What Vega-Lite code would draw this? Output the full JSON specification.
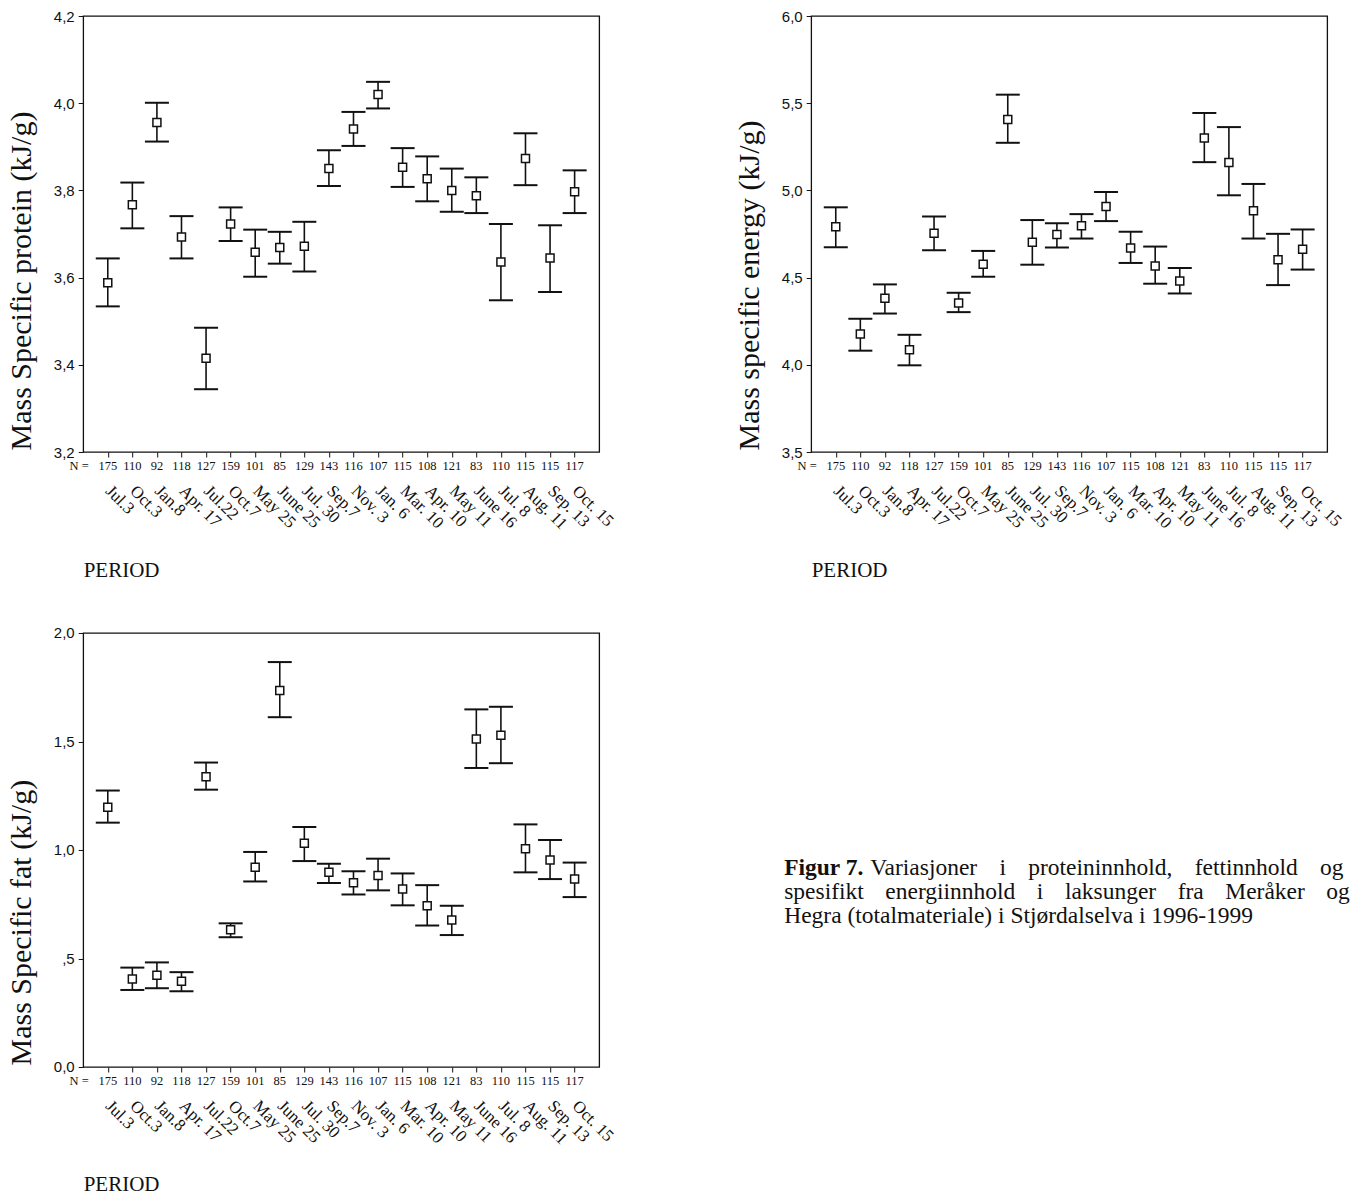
{
  "$schema": "https://vega.github.io/schema/vega-lite/v6.json",
  "padding": {"left": 5.2, "top": 8, "right": 0, "bottom": 0},
  "background": "white",
  "config": {
    "view": {"stroke": "#111", "strokeWidth": 1.3},
    "font": "Liberation Serif",
    "axis": {"grid": false, "domain": false, "tickColor": "#111", "labelColor": "#111", "titleColor": "#111", "titleFontWeight": "normal"},
    "axisY": {"tickSize": 5, "labelPadding": 4, "labelFont": "Liberation Sans", "labelFontSize": 15, "titleFont": "Liberation Serif", "titleFontSize": 30, "titleX": -53, "titleAlign": "left", "titleBaseline": "alphabetic", "labelExpr": "replace(format(datum.value, '.1f'), '.', ',')"},
    "axisX": {"tickSize": 5, "labelAngle": 45, "labelAlign": "left", "labelBaseline": "middle", "labelPadding": 31, "labelFont": "Liberation Serif", "labelFontSize": 17, "labelOverlap": false, "labelFlush": false, "labelBound": false, "titleFont": "Liberation Serif", "titleFontSize": 21, "titleX": 0, "titleY": 124, "titleAlign": "left", "titleBaseline": "alphabetic"}
  },
  "datasets": {
    "d": [
      {"idx": 1, "period": "Jul.3", "n": 175, "prot": 3.588, "prot_lo": 3.534, "prot_hi": 3.644, "en": 4.791, "en_lo": 4.674, "en_hi": 4.903, "fat": 1.197, "fat_lo": 1.126, "fat_hi": 1.274},
      {"idx": 2, "period": "Oct.3", "n": 110, "prot": 3.767, "prot_lo": 3.713, "prot_hi": 3.818, "en": 4.177, "en_lo": 4.081, "en_hi": 4.264, "fat": 0.406, "fat_lo": 0.355, "fat_hi": 0.458},
      {"idx": 3, "period": "Jan.8", "n": 92, "prot": 3.956, "prot_lo": 3.912, "prot_hi": 4.001, "en": 4.381, "en_lo": 4.294, "en_hi": 4.461, "fat": 0.423, "fat_lo": 0.363, "fat_hi": 0.482},
      {"idx": 4, "period": "Apr. 17", "n": 118, "prot": 3.693, "prot_lo": 3.644, "prot_hi": 3.741, "en": 4.087, "en_lo": 3.997, "en_hi": 4.172, "fat": 0.395, "fat_lo": 0.349, "fat_hi": 0.437},
      {"idx": 5, "period": "Jul.22", "n": 127, "prot": 3.415, "prot_lo": 3.344, "prot_hi": 3.485, "en": 4.755, "en_lo": 4.657, "en_hi": 4.851, "fat": 1.338, "fat_lo": 1.278, "fat_hi": 1.403},
      {"idx": 6, "period": "Oct.7", "n": 159, "prot": 3.723, "prot_lo": 3.684, "prot_hi": 3.761, "en": 4.354, "en_lo": 4.302, "en_hi": 4.413, "fat": 0.632, "fat_lo": 0.598, "fat_hi": 0.662},
      {"idx": 7, "period": "May 25", "n": 101, "prot": 3.658, "prot_lo": 3.602, "prot_hi": 3.71, "en": 4.576, "en_lo": 4.505, "en_hi": 4.653, "fat": 0.92, "fat_lo": 0.855, "fat_hi": 0.991},
      {"idx": 8, "period": "June 25", "n": 85, "prot": 3.669, "prot_lo": 3.632, "prot_hi": 3.705, "en": 5.407, "en_lo": 5.273, "en_hi": 5.549, "fat": 1.735, "fat_lo": 1.612, "fat_hi": 1.866},
      {"idx": 9, "period": "Jul. 30", "n": 129, "prot": 3.672, "prot_lo": 3.614, "prot_hi": 3.728, "en": 4.703, "en_lo": 4.574, "en_hi": 4.83, "fat": 1.031, "fat_lo": 0.949, "fat_hi": 1.106},
      {"idx": 10, "period": "Sep.7", "n": 143, "prot": 3.85, "prot_lo": 3.81, "prot_hi": 3.892, "en": 4.747, "en_lo": 4.672, "en_hi": 4.812, "fat": 0.897, "fat_lo": 0.848, "fat_hi": 0.937},
      {"idx": 11, "period": "Nov. 3", "n": 116, "prot": 3.941, "prot_lo": 3.902, "prot_hi": 3.98, "en": 4.797, "en_lo": 4.724, "en_hi": 4.864, "fat": 0.849, "fat_lo": 0.795, "fat_hi": 0.902},
      {"idx": 12, "period": "Jan. 6", "n": 107, "prot": 4.02, "prot_lo": 3.988, "prot_hi": 4.049, "en": 4.908, "en_lo": 4.824, "en_hi": 4.991, "fat": 0.882, "fat_lo": 0.814, "fat_hi": 0.96},
      {"idx": 13, "period": "Mar. 10", "n": 115, "prot": 3.853, "prot_lo": 3.808, "prot_hi": 3.897, "en": 4.67, "en_lo": 4.584, "en_hi": 4.763, "fat": 0.82, "fat_lo": 0.745, "fat_hi": 0.892},
      {"idx": 14, "period": "Apr. 10", "n": 108, "prot": 3.827, "prot_lo": 3.775, "prot_hi": 3.878, "en": 4.567, "en_lo": 4.465, "en_hi": 4.678, "fat": 0.743, "fat_lo": 0.652, "fat_hi": 0.838},
      {"idx": 15, "period": "May 11", "n": 121, "prot": 3.8, "prot_lo": 3.751, "prot_hi": 3.85, "en": 4.48, "en_lo": 4.409, "en_hi": 4.555, "fat": 0.677, "fat_lo": 0.608, "fat_hi": 0.743},
      {"idx": 16, "period": "June 16", "n": 83, "prot": 3.788, "prot_lo": 3.748, "prot_hi": 3.83, "en": 5.3, "en_lo": 5.162, "en_hi": 5.444, "fat": 1.512, "fat_lo": 1.378, "fat_hi": 1.648},
      {"idx": 17, "period": "Jul. 8", "n": 110, "prot": 3.636, "prot_lo": 3.548, "prot_hi": 3.723, "en": 5.16, "en_lo": 4.972, "en_hi": 5.363, "fat": 1.529, "fat_lo": 1.4, "fat_hi": 1.66},
      {"idx": 18, "period": "Aug. 11", "n": 115, "prot": 3.873, "prot_lo": 3.812, "prot_hi": 3.931, "en": 4.883, "en_lo": 4.724, "en_hi": 5.037, "fat": 1.006, "fat_lo": 0.897, "fat_hi": 1.118},
      {"idx": 19, "period": "Sep. 13", "n": 115, "prot": 3.645, "prot_lo": 3.567, "prot_hi": 3.72, "en": 4.603, "en_lo": 4.457, "en_hi": 4.751, "fat": 0.954, "fat_lo": 0.866, "fat_hi": 1.046},
      {"idx": 20, "period": "Oct. 15", "n": 117, "prot": 3.797, "prot_lo": 3.748, "prot_hi": 3.846, "en": 4.663, "en_lo": 4.546, "en_hi": 4.776, "fat": 0.866, "fat_lo": 0.783, "fat_hi": 0.942}
    ]
  },
  "columns": 2,
  "bounds": "flush",
  "spacing": {"row": 181, "column": 212},
  "concat": [
    {
      "width": 516, "height": 436,
      "data": {"name": "d"},
      "encoding": {"x": {"field": "period", "type": "ordinal", "sort": {"field": "idx", "op": "min"}, "scale": {"type": "point", "padding": 1}, "axis": {"title": "PERIOD"}}},
      "layer": [
        {"mark": {"type": "rule", "color": "#111", "strokeWidth": 1.6}, "encoding": {"y": {"field": "prot_lo", "type": "quantitative", "scale": {"domain": [3.2, 4.2], "nice": false, "zero": false}, "axis": {"values": [3.2, 3.4, 3.6, 3.8, 4.0, 4.2], "title": "Mass Specific protein (kJ/g)", "titleY": 434}}, "y2": {"field": "prot_hi"}}},
        {"mark": {"type": "tick", "color": "#111", "size": 24, "thickness": 2, "opacity": 1}, "encoding": {"y": {"field": "prot_lo", "type": "quantitative"}}},
        {"mark": {"type": "tick", "color": "#111", "size": 24, "thickness": 2, "opacity": 1}, "encoding": {"y": {"field": "prot_hi", "type": "quantitative"}}},
        {"mark": {"type": "point", "shape": "square", "size": 64, "filled": true, "fill": "white", "stroke": "#111", "strokeWidth": 1.5, "opacity": 1}, "encoding": {"y": {"field": "prot", "type": "quantitative"}}},
        {"mark": {"type": "text", "baseline": "top", "dy": 8, "fontSize": 12.5, "color": "#111"}, "encoding": {"y": {"datum": 3.2, "type": "quantitative"}, "text": {"field": "n"}}},
        {"transform": [{"filter": "datum.idx == 1"}], "mark": {"type": "text", "baseline": "top", "align": "right", "dx": -19, "dy": 8, "fontSize": 12.5, "color": "#111"}, "encoding": {"y": {"datum": 3.2, "type": "quantitative"}, "text": {"value": "N ="}}}
      ]
    },
    {
      "width": 516, "height": 436,
      "data": {"name": "d"},
      "encoding": {"x": {"field": "period", "type": "ordinal", "sort": {"field": "idx", "op": "min"}, "scale": {"type": "point", "padding": 1}, "axis": {"title": "PERIOD"}}},
      "layer": [
        {"mark": {"type": "rule", "color": "#111", "strokeWidth": 1.6}, "encoding": {"y": {"field": "en_lo", "type": "quantitative", "scale": {"domain": [3.5, 6.0], "nice": false, "zero": false}, "axis": {"values": [3.5, 4.0, 4.5, 5.0, 5.5, 6.0], "title": "Mass specific energy (kJ/g)", "titleY": 434}}, "y2": {"field": "en_hi"}}},
        {"mark": {"type": "tick", "color": "#111", "size": 24, "thickness": 2, "opacity": 1}, "encoding": {"y": {"field": "en_lo", "type": "quantitative"}}},
        {"mark": {"type": "tick", "color": "#111", "size": 24, "thickness": 2, "opacity": 1}, "encoding": {"y": {"field": "en_hi", "type": "quantitative"}}},
        {"mark": {"type": "point", "shape": "square", "size": 64, "filled": true, "fill": "white", "stroke": "#111", "strokeWidth": 1.5, "opacity": 1}, "encoding": {"y": {"field": "en", "type": "quantitative"}}},
        {"mark": {"type": "text", "baseline": "top", "dy": 8, "fontSize": 12.5, "color": "#111"}, "encoding": {"y": {"datum": 3.5, "type": "quantitative"}, "text": {"field": "n"}}},
        {"transform": [{"filter": "datum.idx == 1"}], "mark": {"type": "text", "baseline": "top", "align": "right", "dx": -19, "dy": 8, "fontSize": 12.5, "color": "#111"}, "encoding": {"y": {"datum": 3.5, "type": "quantitative"}, "text": {"value": "N ="}}}
      ]
    },
    {
      "width": 516, "height": 434,
      "data": {"name": "d"},
      "encoding": {"x": {"field": "period", "type": "ordinal", "sort": {"field": "idx", "op": "min"}, "scale": {"type": "point", "padding": 1}, "axis": {"title": "PERIOD"}}},
      "layer": [
        {"mark": {"type": "rule", "color": "#111", "strokeWidth": 1.6}, "encoding": {"y": {"field": "fat_lo", "type": "quantitative", "scale": {"domain": [0, 2.0], "nice": false, "zero": false}, "axis": {"values": [0, 0.5, 1.0, 1.5, 2.0], "title": "Mass Specific fat (kJ/g)", "titleY": 432, "labelExpr": "datum.value == 0.5 ? ',5' : replace(format(datum.value, '.1f'), '.', ',')"}}, "y2": {"field": "fat_hi"}}},
        {"mark": {"type": "tick", "color": "#111", "size": 24, "thickness": 2, "opacity": 1}, "encoding": {"y": {"field": "fat_lo", "type": "quantitative"}}},
        {"mark": {"type": "tick", "color": "#111", "size": 24, "thickness": 2, "opacity": 1}, "encoding": {"y": {"field": "fat_hi", "type": "quantitative"}}},
        {"mark": {"type": "point", "shape": "square", "size": 64, "filled": true, "fill": "white", "stroke": "#111", "strokeWidth": 1.5, "opacity": 1}, "encoding": {"y": {"field": "fat", "type": "quantitative"}}},
        {"mark": {"type": "text", "baseline": "top", "dy": 8, "fontSize": 12.5, "color": "#111"}, "encoding": {"y": {"datum": 0, "type": "quantitative"}, "text": {"field": "n"}}},
        {"transform": [{"filter": "datum.idx == 1"}], "mark": {"type": "text", "baseline": "top", "align": "right", "dx": -19, "dy": 8, "fontSize": 12.5, "color": "#111"}, "encoding": {"y": {"datum": 0, "type": "quantitative"}, "text": {"value": "N ="}}}
      ]
    },
    {
      "width": 540, "height": 434,
      "view": {"stroke": null},
      "data": {"values": [
        {"line": 1, "part": "bold", "text": "Figur 7."},
        {"line": 1, "part": "rest", "text": "Variasjoner \u2002\u2009i \u2002\u2009proteininnhold, \u2002\u2009fettinnhold \u2002\u2009og"},
        {"line": 2, "part": "body", "text": "spesifikt \u2002\u2006energiinnhold \u2002\u2006i \u2002\u2006laksunger \u2002\u2006fra \u2002\u2006Meråker \u2002\u2006og"},
        {"line": 3, "part": "body", "text": "Hegra (totalmateriale) i Stjørdalselva i 1996-1999"}
      ]},
      "encoding": {
        "x": {"datum": 0, "type": "quantitative", "scale": {"domain": [0, 1]}, "axis": null},
        "y": {"field": "line", "type": "quantitative", "scale": {"domain": [-9.0833, 9.0], "reverse": true, "nice": false, "zero": false}, "axis": null},
        "text": {"field": "text"}
      },
      "layer": [
        {"transform": [{"filter": "datum.part == 'bold'"}], "mark": {"type": "text", "align": "left", "baseline": "alphabetic", "dx": -27, "fontSize": 23.5, "fontWeight": "bold", "color": "#111"}},
        {"transform": [{"filter": "datum.part == 'rest'"}], "mark": {"type": "text", "align": "left", "baseline": "alphabetic", "dx": 59, "fontSize": 23.5, "color": "#111"}},
        {"transform": [{"filter": "datum.part == 'body'"}], "mark": {"type": "text", "align": "left", "baseline": "alphabetic", "dx": -27, "fontSize": 23.5, "color": "#111"}}
      ]
    }
  ]
}
